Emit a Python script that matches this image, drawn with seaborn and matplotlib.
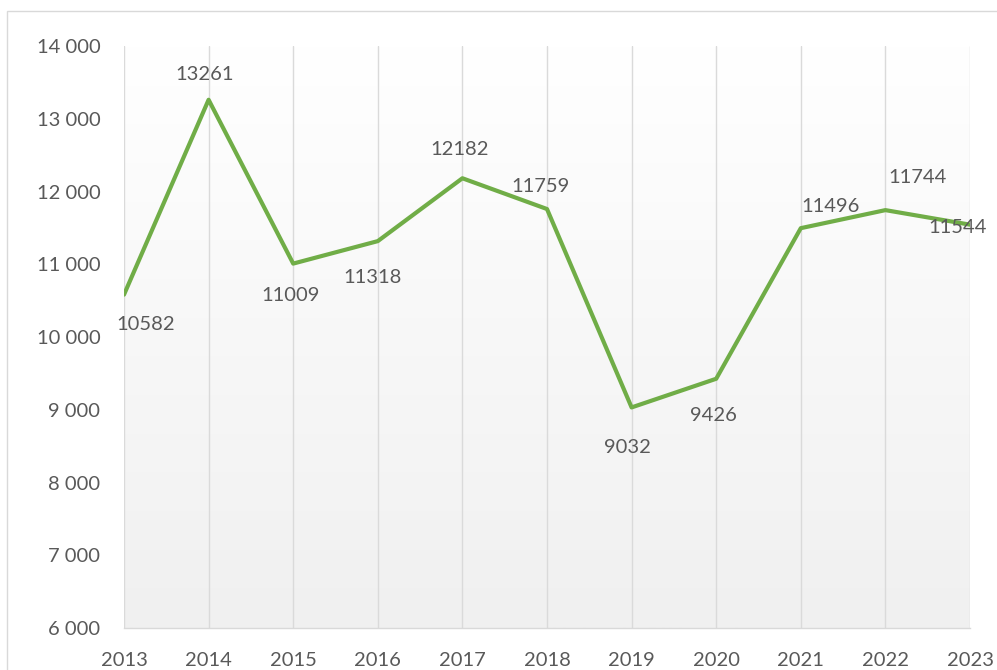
import numpy as np
import pandas as pd
import matplotlib
matplotlib.use("Agg")
import matplotlib.pyplot as plt
from matplotlib.patches import Rectangle
from matplotlib.colors import LinearSegmentedColormap
import seaborn as sns

years = [2013, 2014, 2015, 2016, 2017, 2018, 2019, 2020, 2021, 2022, 2023]
values = [10582, 13261, 11009, 11318, 12182, 11759, 9032, 9426, 11496, 11744, 11544]
yticks = [6000, 7000, 8000, 9000, 10000, 11000, 12000, 13000, 14000]
ytick_labels = ["6 000", "7 000", "8 000", "9 000", "10 000", "11 000", "12 000", "13 000", "14 000"]
# label offsets in pixels (dx, dy) relative to each point
label_offsets = [(22, -30), (-4, 25), (-3, -32), (-5, -36), (-3, 29), (-7, 23),
                 (-4, -40), (-3, -37), (30, 22), (32, 33), (-12, -3)]

sns.set_style("white")
plt.rcParams['font.family'] = ['Lato', 'DejaVu Sans']

df = pd.DataFrame({"year": years, "value": values})

fig = plt.figure(figsize=(9.97, 6.7), dpi=100)
ax = fig.add_axes([124/997, 1-628/670, (970-124)/997, (628-46)/670])

# gradient background
grad = np.linspace(0, 1, 256).reshape(-1, 1)
cmap = LinearSegmentedColormap.from_list("g", ["#f0f0f0", "#ffffff"])
ax.imshow(grad, aspect="auto", cmap=cmap, origin="lower",
          extent=[years[0], years[-1], yticks[0], yticks[-1]], zorder=0)

for yr in years:
    ax.axvline(yr, color="#dadada", lw=1, zorder=1)

sns.lineplot(data=df, x="year", y="value", ax=ax, color="#70AD47", lw=3, zorder=3)

for yr, v, (dx, dy) in zip(years, values, label_offsets):
    ax.annotate(str(v), (yr, v), xytext=(dx, dy), textcoords="offset pixels",
                ha="center", va="center", fontsize=14.5, color="#595959", zorder=4)

ax.set_xlim(years[0], years[-1])
ax.set_ylim(yticks[0], yticks[-1])
ax.set_xticks(years)
ax.set_xticklabels([str(y) for y in years])
ax.set_yticks(yticks)
ax.set_yticklabels(ytick_labels)
ax.tick_params(axis="both", length=0, labelsize=14.5, labelcolor="#595959")
ax.tick_params(axis="y", pad=17)
ax.tick_params(axis="x", pad=17)
ax.set_xlabel("")
ax.set_ylabel("")
for s in ["top", "right", "left"]:
    ax.spines[s].set_visible(False)
ax.spines["bottom"].set_color("#d9d9d9")
ax.spines["bottom"].set_linewidth(1)

fig.add_artist(Rectangle((7/997, -0.2), 1.5, 1.2 - 11/670, transform=fig.transFigure,
                         fill=False, edgecolor="#d9d9d9", lw=1, clip_on=False))

fig.savefig("out.png", dpi=100)
